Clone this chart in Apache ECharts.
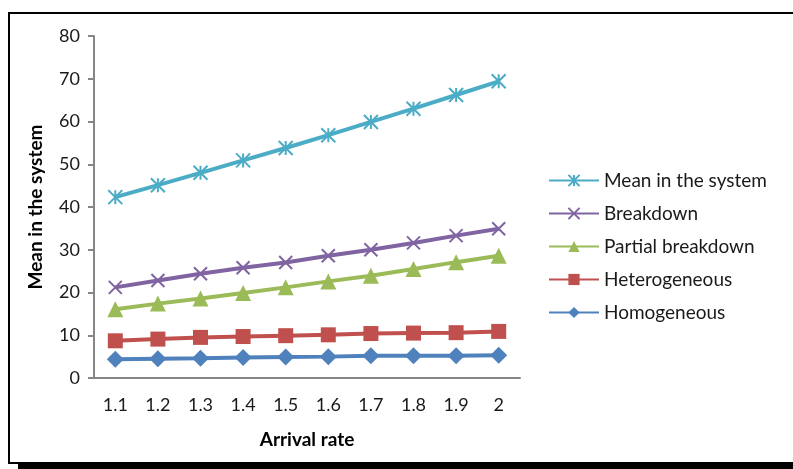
<!DOCTYPE html>
<html>
<head>
<meta charset="utf-8">
<script src="https://cdn.jsdelivr.net/npm/echarts@6/dist/echarts.min.js"></script>
<style>
  html, body { margin: 0; padding: 0; background: #fff; }
  #chart { width: 793px; height: 469px; }
</style>
</head>
<body>
<div id="chart"></div>
<script>
// Arrival rates on the x axis
const arrivalRates = ['1.1', '1.2', '1.3', '1.4', '1.5', '1.6', '1.7', '1.8', '1.9', '2'];

// Mean number in the system for each model
const meanInSystem = [42.3, 45.1, 48.0, 50.9, 53.8, 56.8, 59.9, 63.0, 66.2, 69.4];
const breakdown = [21.2, 22.8, 24.4, 25.8, 27.0, 28.6, 30.0, 31.6, 33.3, 34.9];
const partialBreakdown = [16.1, 17.4, 18.6, 19.9, 21.2, 22.6, 23.9, 25.5, 27.1, 28.6];
const heterogeneous = [8.7, 9.1, 9.5, 9.7, 9.9, 10.1, 10.4, 10.5, 10.6, 10.9];
const homogeneous = [4.4, 4.5, 4.6, 4.8, 4.9, 5.0, 5.2, 5.2, 5.2, 5.3];

const legendOrder = ['Mean in the system', 'Breakdown', 'Partial breakdown', 'Heterogeneous', 'Homogeneous'];

const FONT = 'Lato, "Open Sans", sans-serif';

// Stroked marker outlines: asterisk and cross
const asterisk = 'path://M0 0 L10 10 M10 0 L0 10 M5 0 L5 10';
const cross = 'path://M0 0 L10 10 M10 0 L0 10';

function lineSeries(name, data, color, symbol, size, stroked) {
  return {
    name: name,
    type: 'line',
    data: data,
    symbol: symbol,
    symbolSize: size,
    showAllSymbol: true,
    lineStyle: { color: color, width: 4 },
    itemStyle: stroked
      ? { color: color, borderColor: color, borderWidth: 2 }
      : { color: color, borderWidth: 0 },
    emphasis: { disabled: true },
    animation: false,
    z: 2
  };
}

const chart = echarts.init(document.getElementById('chart'), null, { renderer: 'canvas' });

chart.setOption({
  backgroundColor: '#fff',
  animation: false,
  graphic: [
    // outer frame with a heavy bottom edge
    { type: 'rect', shape: { x: 9, y: 13, width: 800, height: 450 },
      style: { fill: 'none', stroke: '#000', lineWidth: 2 }, silent: true, z: -10 },
    { type: 'rect', shape: { x: 18, y: 464, width: 780, height: 6 },
      style: { fill: '#000' }, silent: true, z: -10 }
  ],
  grid: { left: 94, right: 273, top: 36, bottom: 91, containLabel: false },
  legend: {
    data: legendOrder,
    orient: 'vertical',
    left: 543,
    top: 166,
    itemWidth: 50,
    itemHeight: 14,
    itemGap: 14,
    textStyle: { fontFamily: FONT, fontSize: 19, color: '#1a1a1a', padding: [0, 0, 0, 0] },
    selectedMode: false
  },
  xAxis: {
    type: 'category',
    data: arrivalRates,
    boundaryGap: true,
    name: 'Arrival rate',
    nameLocation: 'middle',
    nameGap: 52,
    nameTextStyle: { fontFamily: FONT, fontSize: 19, fontWeight: 'bold', color: '#000' },
    axisLine: { lineStyle: { color: '#868686', width: 2 } },
    axisTick: { show: false },
    axisLabel: { fontFamily: FONT, fontSize: 18, color: '#1a1a1a', margin: 18 },
    splitLine: { show: false }
  },
  yAxis: {
    type: 'value',
    min: 0,
    max: 80,
    interval: 10,
    name: 'Mean in the system',
    nameLocation: 'middle',
    nameGap: 49,
    nameTextStyle: { fontFamily: FONT, fontSize: 19, fontWeight: 'bold', color: '#000' },
    axisLine: { show: true, lineStyle: { color: '#868686', width: 2 } },
    axisTick: { show: true, length: 6, lineStyle: { color: '#868686', width: 2 } },
    axisLabel: { fontFamily: FONT, fontSize: 18, color: '#1a1a1a', margin: 14 },
    splitLine: { show: false }
  },
  series: [
    lineSeries('Homogeneous', homogeneous, '#4F81BD', 'diamond', 17, false),
    lineSeries('Heterogeneous', heterogeneous, '#C0504D', 'rect', 15, false),
    lineSeries('Partial breakdown', partialBreakdown, '#9BBB59', 'triangle', 16, false),
    lineSeries('Breakdown', breakdown, '#8064A2', cross, 13, true),
    lineSeries('Mean in the system', meanInSystem, '#4BACC6', asterisk, 14, true)
  ]
});
</script>
</body>
</html>
